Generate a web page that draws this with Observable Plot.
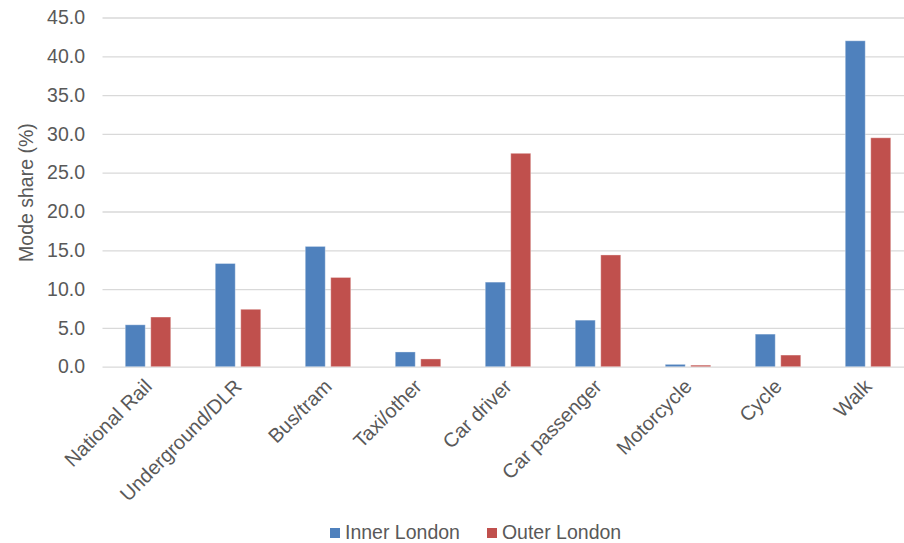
<!DOCTYPE html>
<html>
<head>
<meta charset="utf-8">
<script src="https://cdn.jsdelivr.net/npm/d3@7"></script>
<script src="https://cdn.jsdelivr.net/npm/@observablehq/plot@0.6"></script>
<style>
  html, body { margin: 0; padding: 0; background: #fff; overflow: hidden; }
  #chart svg { display: block; overflow: hidden; }
  #chart g[aria-label^="x-axis"] text { font-size: 20px; }
  #legend { padding-left: 330px; margin-top: -2px; }
  #legend span { margin-right: 27px !important; }
  #legend span svg { margin-right: 5px !important; }
</style>
</head>
<body>
<div id="chart"></div>
<div id="legend"></div>
<script>
// Travel mode share by area of residence (%)
const categories = ["National Rail", "Underground/DLR", "Bus/tram", "Taxi/other", "Car driver", "Car passenger", "Motorcycle", "Cycle", "Walk"];
const series = ["Inner London", "Outer London"];
const innerLondon = [5.4, 13.3, 15.5, 1.9, 10.9, 6.0, 0.3, 4.2, 42.0];
const outerLondon = [6.4, 7.4, 11.5, 1.0, 27.5, 14.4, 0.2, 1.5, 29.5];
const yTicks = [0, 5, 10, 15, 20, 25, 30, 35, 40, 45];
const yTitle = "Mode share (%)";
const colors = ["#4F81BD", "#C0504D"];

const innerRows = categories.map((mode, i) => ({mode, area: series[0], value: innerLondon[i]}));
const outerRows = categories.map((mode, i) => ({mode, area: series[1], value: outerLondon[i]}));

const font = "'Liberation Sans', Arial, Helvetica, sans-serif";

const chart = Plot.plot({
  width: 904,
  height: 518,
  marginLeft: 102.5,
  marginRight: -8.5,
  marginTop: 17.5,
  marginBottom: 151.3,
  style: {fontFamily: font, fontSize: "19.5px", color: "#595959", background: "#fff"},
  x: {
    domain: categories,
    paddingInner: 7 / 9,
    paddingOuter: 3.5 / 9,
    label: null,
    tickSize: 0,
    tickRotate: -45,
    tickPadding: 16
  },
  y: {
    domain: [0, 45],
    ticks: yTicks,
    tickFormat: d3.format(".1f"),
    tickSize: 0,
    tickPadding: 18,
    label: null
  },
  color: {domain: series, range: colors},
  marks: [
    // horizontal gridlines, including the baseline at zero
    Plot.ruleY(yTicks, {stroke: "#d9d9d9", strokeWidth: 1.3}),
    Plot.barY(innerRows, {x: "mode", y: "value", fill: "area", dx: -12.75, stroke: "#fff", strokeOpacity: 0.35}),
    Plot.barY(outerRows, {x: "mode", y: "value", fill: "area", dx: 12.75, stroke: "#fff", strokeOpacity: 0.35}),
    // vertical axis title
    Plot.text([yTitle], {frameAnchor: "left", textAnchor: "middle", rotate: -90, dx: -76, fill: "#595959", fontSize: 19.5})
  ]
});
document.getElementById("chart").append(chart);

const legend = Plot.legend({
  color: {domain: series, range: colors, legend: "swatches"},
  swatchSize: 10,
  style: {fontFamily: font, fontSize: "19.5px", color: "#595959"}
});
document.getElementById("legend").append(legend);
</script>
</body>
</html>
